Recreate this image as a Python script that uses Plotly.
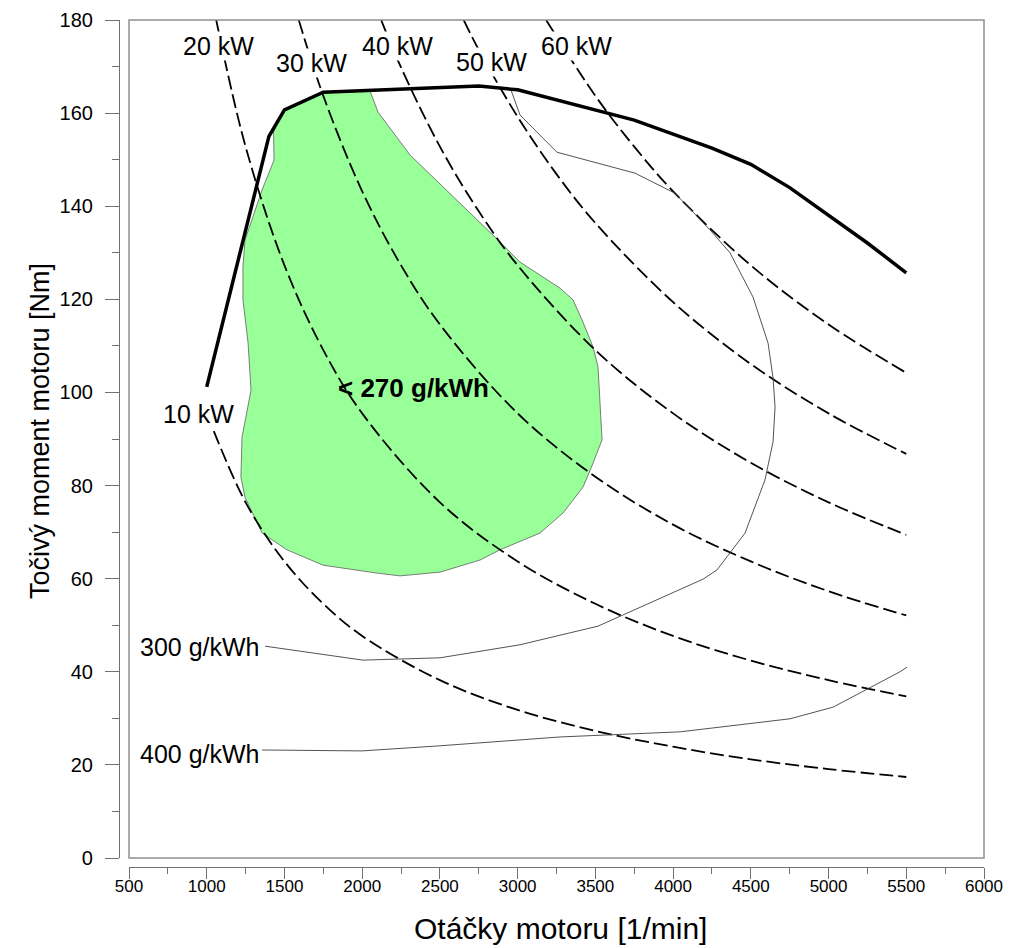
import plotly.graph_objects as go

# ---------------- data ----------------
# full-load torque curve
wot_rpm = [1000, 1400, 1500, 1750, 2750, 3000, 3750, 4250, 4500, 4750, 5250, 5500]
wot_torque = [101.2, 155.0, 160.7, 164.5, 165.8, 165.0, 158.5, 152.5, 149.0, 144.0, 132.1, 125.7]

# constant power lines (kW)
p10_rpm = [1000, 1250, 1500, 1750, 2000, 2500, 3000, 3500, 4000, 4500, 5000, 5500]
p10_tq = [95.5, 76.4, 63.7, 54.6, 47.7, 38.2, 31.8, 27.3, 23.9, 21.2, 19.1, 17.4]
p20_rpm = [1061, 1250, 1500, 1750, 2000, 2500, 3000, 3500, 4000, 4500, 5000, 5500]
p20_tq = [180.0, 152.8, 127.3, 109.1, 95.5, 76.4, 63.7, 54.6, 47.7, 42.4, 38.2, 34.7]
p30_rpm = [1592, 1750, 2000, 2250, 2500, 3000, 3500, 4000, 4500, 5000, 5500]
p30_tq = [180.0, 163.7, 143.2, 127.3, 114.6, 95.5, 81.9, 71.6, 63.7, 57.3, 52.1]
p40_rpm = [2122, 2250, 2500, 2750, 3000, 3500, 4000, 4500, 5000, 5500]
p40_tq = [180.0, 169.8, 152.8, 138.9, 127.3, 109.1, 95.5, 84.9, 76.4, 69.4]
p50_rpm = [2653, 2750, 3000, 3250, 3500, 4000, 4500, 5000, 5500]
p50_tq = [180.0, 173.6, 159.2, 146.9, 136.4, 119.4, 106.1, 95.5, 86.8]
p60_rpm = [3183, 3500, 3750, 4000, 4500, 5000, 5500]
p60_tq = [180.0, 163.7, 152.8, 143.2, 127.3, 114.6, 104.2]

# 300 g/kWh contour
c300_rpm = [1375, 2005, 2501, 3015, 3517, 4193, 4283, 4463, 4591, 4643, 4656, 4643,
            4611, 4514, 4366, 4238, 4012, 3755, 3253, 3015, 2957]
c300_tq = [45.5, 42.5, 43.0, 45.8, 49.8, 59.9, 61.9, 69.8, 81.2, 89.4, 96.9, 103.1,
           110.6, 120.5, 130.0, 134.9, 142.8, 147.1, 151.6, 159.6, 165.0]

# 400 g/kWh contour
c400_rpm = [1356, 2000, 2500, 3273, 4045, 4752, 5029, 5247, 5460, 5505]
c400_tq = [23.2, 23.0, 24.1, 26.0, 27.1, 29.9, 32.4, 36.3, 40.0, 41.0]

# < 270 g/kWh region
c270_rpm = [1430, 1497, 1748, 2050, 2102, 2308, 2906, 3015, 3273, 3356, 3414, 3485,
            3517, 3543, 3485, 3421, 3292, 3144, 2887, 2758, 2501, 2243, 2095, 1748,
            1516, 1356, 1246, 1220, 1227, 1285, 1266, 1233, 1233, 1246, 1356, 1433, 1430]
c270_tq = [156.0, 160.7, 164.5, 164.8, 160.2, 151.0, 131.7, 128.0, 122.4, 119.9, 115.6, 109.8,
           105.5, 89.8, 84.8, 79.7, 74.1, 69.8, 66.2, 64.0, 61.4, 60.6, 61.2, 62.9,
           66.2, 69.8, 77.5, 81.8, 90.4, 100.5, 110.6, 119.9, 126.9, 132.7, 143.5, 149.9, 156.0]

# labels
kw_labels = ["10 kW", "20 kW", "30 kW", "40 kW", "50 kW", "60 kW"]
kw_label_x = [944, 1073, 1677, 2227, 2829, 3379]
kw_label_y = [95.3, 174.4, 170.8, 174.4, 170.9, 174.4]

x_title = "Otáčky motoru [1/min]"
y_title = "Točivý moment motoru [Nm]"

# ---------------- figure ----------------
FONT = "Liberation Sans, Arial, sans-serif"
fig = go.Figure()

fig.add_trace(go.Scatter(x=c270_rpm, y=c270_tq, mode="lines", fill="toself",
                         fillcolor="#99FF99", line=dict(color="#606060", width=0.8),
                         hoverinfo="skip", showlegend=False))

dash = "14px,5px"
for rpm, tq in [(p10_rpm, p10_tq), (p20_rpm, p20_tq), (p30_rpm, p30_tq),
                (p40_rpm, p40_tq), (p50_rpm, p50_tq), (p60_rpm, p60_tq)]:
    fig.add_trace(go.Scatter(x=rpm, y=tq, mode="lines", line_shape="spline",
                             line=dict(color="black", width=1.8, dash=dash),
                             hoverinfo="skip", showlegend=False))

fig.add_trace(go.Scatter(x=c300_rpm, y=c300_tq, mode="lines",
                         line=dict(color="#404040", width=0.9), showlegend=False))
fig.add_trace(go.Scatter(x=c400_rpm, y=c400_tq, mode="lines",
                         line=dict(color="#404040", width=0.9), showlegend=False))

fig.add_trace(go.Scatter(x=wot_rpm, y=wot_torque, mode="lines",
                         line=dict(color="black", width=3.5), showlegend=False))

for t, x, y in zip(kw_labels, kw_label_x, kw_label_y):
    fig.add_annotation(x=x, y=y, text=t, showarrow=False, bgcolor="white",
                       borderpad=0, font=dict(family=FONT, size=25, color="black"))

fig.add_annotation(x=1356, y=45.4, text="300 g/kWh", showarrow=False, xanchor="right",
                   font=dict(family=FONT, size=25, color="black"))
fig.add_annotation(x=1356, y=22.3, text="400 g/kWh", showarrow=False, xanchor="right",
                   font=dict(family=FONT, size=25, color="black"))
fig.add_annotation(x=2330, y=101, text="<b>&lt; 270 g/kWh</b>", showarrow=False,
                   font=dict(family=FONT, size=26, color="black"))

# plot frame
fig.add_shape(type="rect", xref="x domain", yref="y domain", x0=0, x1=1, y0=0, y1=1,
              line=dict(color="#909090", width=1.5), layer="above")

W, H = 1012, 948
L, R, T, B = 119, 28, 20, 81
pw, ph = W - L - R, H - T - B

# axis titles placed as paper annotations (pixel positions converted to paper units)
fig.add_annotation(xref="paper", yref="paper", x=(40 - L) / pw, y=1 - (431 - T) / ph,
                   xanchor="center", yanchor="middle",
                   text=y_title, textangle=-90, showarrow=False,
                   font=dict(family=FONT, size=27, color="black"))
fig.add_annotation(xref="paper", yref="paper", x=(560 - L) / pw, y=1 - (928 - T) / ph,
                   xanchor="center", yanchor="middle",
                   text=x_title, showarrow=False,
                   font=dict(family=FONT, size=30, color="black"))

fig.update_layout(
    width=W, height=H,
    margin=dict(l=L, r=R, t=T, b=B, autoexpand=False),
    plot_bgcolor="white", paper_bgcolor="white",
    font=dict(family=FONT, color="black"),
    xaxis=dict(range=[500, 6000], domain=[10 / pw, 1], anchor="free", position=0,
               automargin=False, ticklabeloverflow="allow",
               showgrid=False, zeroline=False, showline=True, linecolor="#707070",
               linewidth=1.2, ticks="outside", ticklen=11, tickcolor="#707070",
               dtick=500, tick0=500, tickfont=dict(size=17), ticklabelstandoff=-8,
               minor=dict(dtick=250, ticks="outside", ticklen=6, tickcolor="#707070")),
    yaxis=dict(range=[0, 180], domain=[9 / ph, 1], anchor="free", position=0,
               automargin=False,
               showgrid=False, zeroline=False, showline=True, linecolor="#707070",
               linewidth=1.2, ticks="outside", ticklen=14, tickcolor="#707070",
               dtick=20, tickfont=dict(size=20), ticklabelstandoff=8,
               minor=dict(dtick=10, ticks="outside", ticklen=7, tickcolor="#707070")),
)

# remove the default 8 px page margin so the figure fills the window exactly
fig.write_html("out.html", config={"displayModeBar": False},
               post_script="document.body.style.margin='0';document.body.style.overflow='hidden';")
